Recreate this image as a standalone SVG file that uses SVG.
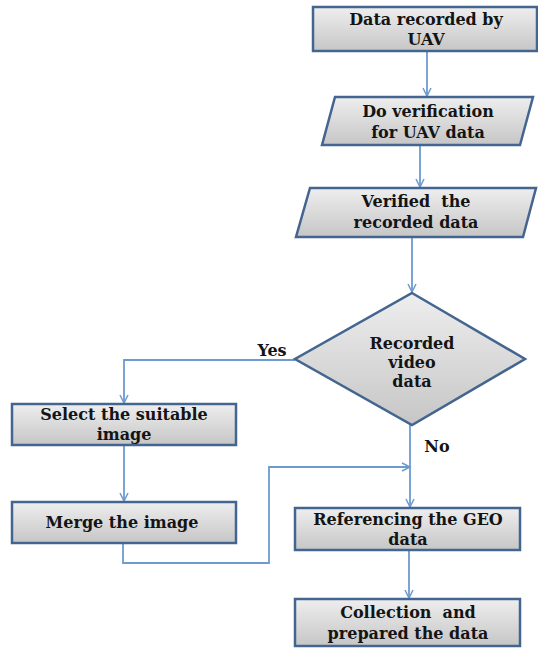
<svg xmlns="http://www.w3.org/2000/svg" width="538" height="648" viewBox="0 0 538 648">
<defs>
<linearGradient id="g" x1="0" y1="0" x2="0" y2="1">
<stop offset="0" stop-color="#eeeeee"/>
<stop offset="1" stop-color="#c6c6c6"/>
</linearGradient>
<marker id="a" markerWidth="12" markerHeight="10" refX="10" refY="5" orient="auto" markerUnits="userSpaceOnUse">
<path d="M2,1 L10,5 L2,9" fill="none" stroke="#6d9bd0" stroke-width="1.5"/>
</marker>
<style>
.n{fill:url(#g);stroke:#44658f;stroke-width:2.5}
.t{font-family:'DejaVu Serif',serif;font-weight:700;font-size:16px;fill:#141414;text-anchor:middle}
.p{white-space:pre}
.c{fill:none;stroke:#6d9bd0;stroke-width:1.8}
</style>
</defs>
<rect width="538" height="648" fill="#ffffff"/>
<g id="connectors">
<path class="c" d="M427,51 V96" marker-end="url(#a)"/>
<path class="c" d="M420,145 V187" marker-end="url(#a)"/>
<path class="c" d="M412,237 V292" marker-end="url(#a)"/>
<path class="c" d="M295,360 H124 V403" marker-end="url(#a)"/>
<path class="c" d="M124,446 V501" marker-end="url(#a)"/>
<path class="c" d="M123,543 V563 H269 V467 H410" marker-end="url(#a)"/>
<path class="c" d="M410,425 V507" marker-end="url(#a)"/>
<path class="c" d="M409,550 V598" marker-end="url(#a)"/>
</g>
<g id="n1"><rect class="n" x="313" y="7" width="224" height="44"/>
<text class="t" x="426" y="25">Data recorded by</text><text class="t" x="426" y="45">UAV</text></g>
<g id="n2"><polygon class="n" points="335,97 533,97 520,145 322,145"/>
<text class="t" x="428" y="117">Do verification</text><text class="t" x="428" y="138">for UAV data</text></g>
<g id="n3"><polygon class="n" points="310,188 536,188 523,237 296,237"/>
<text class="t p" xml:space="preserve" x="416" y="207">Verified  the</text><text class="t" x="416" y="228">recorded data</text></g>
<g id="n4"><polygon class="n" points="412,293 525,359 412,425 295,359"/>
<text class="t" x="412" y="349">Recorded</text><text class="t" x="412" y="368">video</text><text class="t" x="412" y="387">data</text></g>
<text class="t" x="272" y="356">Yes</text>
<text class="t" x="437" y="452">No</text>
<g id="n5"><rect class="n" x="12" y="404" width="224" height="41"/>
<text class="t" x="124" y="420">Select the suitable</text><text class="t" x="124" y="440">image</text></g>
<g id="n6"><rect class="n" x="12" y="502" width="224" height="41"/>
<text class="t" x="122" y="528">Merge the image</text></g>
<g id="n7"><rect class="n" x="295" y="508" width="225" height="42"/>
<text class="t" x="408" y="525">Referencing the GEO</text><text class="t" x="408" y="545">data</text></g>
<g id="n8"><rect class="n" x="295" y="599" width="225" height="47"/>
<text class="t p" xml:space="preserve" x="408" y="618">Collection  and</text><text class="t" x="408" y="639">prepared the data</text></g>
</svg>
